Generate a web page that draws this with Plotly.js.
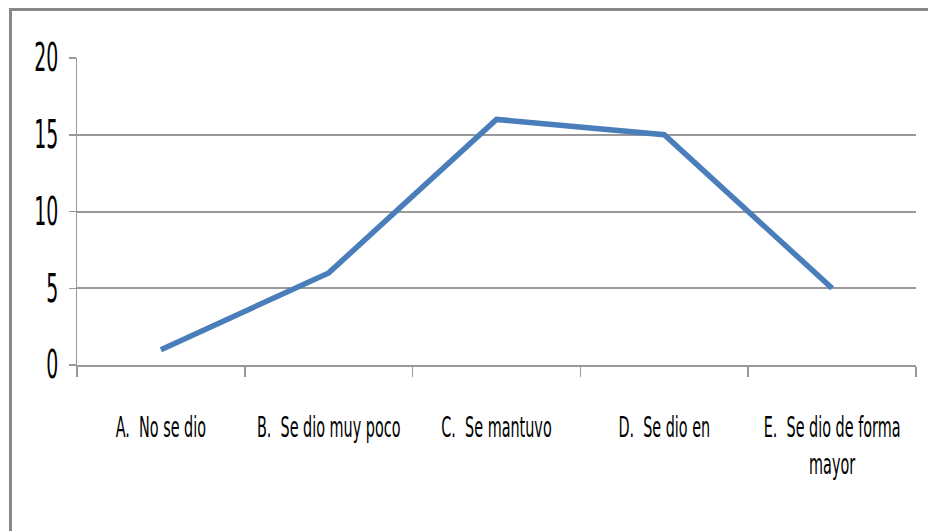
<!DOCTYPE html>
<html><head><meta charset="utf-8">
<script src="https://cdn.plot.ly/plotly-3.0.1.min.js"></script>
<style>
body{margin:0;background:#fff;overflow:hidden}
#chart{width:928px;height:531px}
#frame{position:absolute;left:9px;top:8px;width:919px;height:523px;border-top:3px solid #888;border-left:3px solid #888;pointer-events:none;box-sizing:border-box}
</style>
</head><body>
<div id="chart"></div><div id="frame"></div>
<script>
const categories = ["A.\u00a0\u00a0No se dio", "B.\u00a0\u00a0Se dio muy poco", "C.\u00a0\u00a0Se mantuvo", "D.\u00a0\u00a0Se dio en", "E.\u00a0\u00a0Se dio de forma<br>mayor"];
const values = [1, 6, 16, 15, 5];
const yTicks = [0, 5, 10, 15, 20];

const FONT = '"Liberation Sans Narrow", "DejaVu Sans Condensed", "Roboto Condensed", sans-serif';

const trace = {
  x: categories, y: values, type: 'scatter', mode: 'lines',
  line: {color: '#4a7ebb', width: 5.5}, hoverinfo: 'none'
};
const layout = {
  width: 928, height: 531,
  margin: {l: 77, r: 12, t: 58, b: 166},
  paper_bgcolor: '#fff', plot_bgcolor: '#fff',
  showlegend: false,
  font: {family: FONT, color: '#000'},
  xaxis: {
    type: 'category', range: [-0.5, 4.5],
    showgrid: false, zeroline: false,
    showline: true, linecolor: '#999', linewidth: 2,
    ticks: 'outside', tickson: 'boundaries', ticklen: 10, tickcolor: '#999', tickwidth: 1.5,
    tickfont: {size: 16, family: FONT, color: '#000'},
    ticklabelstandoff: 40, fixedrange: true
  },
  yaxis: {
    range: [0, 20], tickvals: yTicks, ticktext: yTicks.map(String),
    showgrid: true, gridcolor: '#999', gridwidth: 2,
    zeroline: false, showline: true, linecolor: '#999', linewidth: 1.5,
    ticks: 'outside', ticklen: 7, tickcolor: '#999', tickwidth: 1.5,
    tickfont: {size: 21, family: FONT, color: '#000'},
    ticklabelstandoff: 6, fixedrange: true
  }
};
function stretch(sel, k, top) {
  document.querySelectorAll(sel).forEach(t => {
    const b = t.getBBox();
    const cy = top ? b.y : b.y + b.height / 2;
    const tr = t.getAttribute('transform') || '';
    t.setAttribute('transform', tr + ' translate(0,' + cy + ') scale(1,' + k + ') translate(0,' + (-cy) + ')');
  });
}
Plotly.newPlot('chart', [trace], layout, {staticPlot: true, displayModeBar: false}).then(() => {
  stretch('.xtick text', 1.75, true);
  stretch('.ytick text', 1.85, false);
});
</script>
</body></html>
